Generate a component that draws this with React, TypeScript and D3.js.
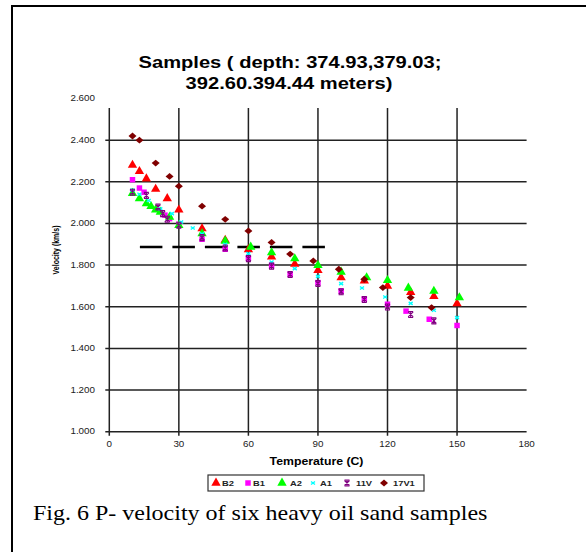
import React from "react";
import * as d3 from "d3";

// ---- data ----
const xTicks = [0, 30, 60, 90, 120, 150, 180];
const yTicks = [1.0, 1.2, 1.4, 1.6, 1.8, 2.0, 2.2, 2.4, 2.6];

const b2T = [10, 13, 16, 20, 25, 30, 40, 50, 60, 70, 80, 90, 100, 110, 120, 130, 140, 150];
const b2V = [2.28, 2.25, 2.215, 2.165, 2.12, 2.065, 1.975, 1.92, 1.875, 1.84, 1.805, 1.775, 1.74, 1.725, 1.7, 1.67, 1.65, 1.615];

const b1T = [10, 13, 15, 24, 26, 30, 40, 50, 60, 70, 78, 90, 100, 110, 120, 128, 138, 150];
const b1V = [2.21, 2.17, 2.15, 2.04, 2.023, 1.996, 1.924, 1.876, 1.834, 1.799, 1.757, 1.716, 1.676, 1.638, 1.612, 1.579, 1.54, 1.51];

const a2T = [10, 13, 16, 18, 20, 22, 26, 30, 40, 50, 61, 70, 80, 90, 100, 111, 120, 129, 140, 151];
const a2V = [2.145, 2.12, 2.095, 2.082, 2.066, 2.055, 2.031, 1.991, 1.951, 1.916, 1.887, 1.86, 1.831, 1.799, 1.767, 1.74, 1.727, 1.69, 1.675, 1.644];

const a1T = [10, 13, 17, 22, 27, 31, 36, 40, 50, 60, 70, 80, 90, 100, 109, 119, 130, 140, 150];
const a1V = [2.16, 2.14, 2.11, 2.07, 2.047, 2.007, 1.978, 1.95, 1.9, 1.855, 1.815, 1.783, 1.746, 1.711, 1.69, 1.647, 1.616, 1.583, 1.548];

const v11T = [10, 16, 21, 23, 25, 30, 40, 50, 60, 70, 78, 90, 100, 110, 120, 130, 140];
const v11V = [2.15, 2.135, 2.079, 2.047, 2.02, 1.991, 1.932, 1.882, 1.831, 1.795, 1.755, 1.712, 1.672, 1.635, 1.599, 1.563, 1.532];

const v17T = [10, 13, 20, 26, 30, 40, 50, 60, 70, 78, 88, 99, 110, 118, 130, 139];
const v17V = [2.42, 2.4, 2.29, 2.226, 2.179, 2.083, 2.02, 1.964, 1.909, 1.853, 1.82, 1.78, 1.732, 1.692, 1.644, 1.596];

const dashT = [13.2, 93];
const dashV = [1.887, 1.887];

const seriesNames = ["B2", "B1", "A2", "A1", "11V", "17V1"];
const seriesColors = ["#ff0000", "#ff00ff", "#00ff00", "#00ffff", "#800080", "#800000"];
const seriesT = [b2T, b1T, a2T, a1T, v11T, v17T];
const seriesV = [b2V, b1V, a2V, a1V, v11V, v17V];

const titleLines = ["Samples ( depth: 374.93,379.03;", "392.60.394.44 meters)"];
const xTitle = "Temperature (C)";
const yTitle = "Velocity (km/s)";
const caption = "Fig. 6 P- velocity of six heavy oil sand samples";

// ---- layout ----
const W = 586;
const H = 552;
const SX = 1.17;
const x = d3.scaleLinear().domain([0, 180]).range([109.3, 526.6]);
const y = d3.scaleLinear().domain([1.0, 2.6]).range([431.7, 98.5]);

const triPath = d3.symbol(d3.symbolTriangle, 38)() as string;
const sqPath = d3.symbol(d3.symbolSquare, 30)() as string;
const diaPath = "M0,-3.4L4,0L0,3.4L-4,0Z";

function Marker({ i, cx, cy }: { i: number; cx: number; cy: number }) {
  const c = seriesColors[i];
  const t = `translate(${cx},${cy})`;
  if (i === 0 || i === 2) return <path d={triPath} transform={t} fill={c} />;
  if (i === 1) return <path d={sqPath} transform={t} fill={c} />;
  if (i === 3)
    return (
      <path d="M-2,-1.5L2,1.5M2,-1.5L-2,1.5" transform={t} stroke={c} strokeWidth={1.4} fill="none" />
    );
  if (i === 4)
    return (
      <path
        d="M-2.5,-2.5L2.5,2.5M2.5,-2.5L-2.5,2.5M0,-3L0,3M-2.5,-3L2.5,-3M-2.5,3L2.5,3"
        transform={t}
        stroke={c}
        strokeWidth={1.1}
        fill="none"
      />
    );
  return <path d={diaPath} transform={t} fill={c} />;
}

function SText({
  x0,
  y0,
  size,
  anchor = "middle",
  bold = false,
  family = "Liberation Sans, Arial, sans-serif",
  fill = "#000",
  sx = SX,
  children,
}: any) {
  return (
    <text
      transform={`translate(${x0},${y0}) scale(${sx},1)`}
      fontSize={size}
      fontFamily={family}
      fontWeight={bold ? "bold" : "normal"}
      textAnchor={anchor}
      dominantBaseline="central"
      fill={fill}
    >
      {children}
    </text>
  );
}

export default function App() {
  const legendX = [216, 248, 282, 313, 347, 384];
  const legendTextX = [222, 253, 290, 320, 356, 393];
  const legendY = 483;
  const dashLine = d3.line<number>().x((d, k) => x(dashT[k])).y((d, k) => y(dashV[k]));
  return (
    <svg
      width={W}
      height={H}
      style={{ position: "absolute", left: 0, top: 0, background: "#fff" }}
    >
      <rect width={W} height={H} fill="#fff" />
      {/* outer table frame */}
      <line x1={12} y1={6} x2={W} y2={6} stroke="#000" strokeWidth={2} />
      <line x1={12} y1={5} x2={12} y2={H} stroke="#000" strokeWidth={2} />

      {/* gridlines */}
      {yTicks.map((t) => (
        <line key={"h" + t} x1={x(0) - 4} x2={x(180)} y1={y(t)} y2={y(t)} stroke="#222" strokeWidth={1.5} />
      ))}
      {xTicks.slice(0, 6).map((t) => (
        <line key={"v" + t} x1={x(t)} x2={x(t)} y1={y(2.6)} y2={y(1.0) + 4} stroke="#222" strokeWidth={1.5} />
      ))}

      {/* white title box overlapping top of plot */}
      <rect x={100} y={40} width={432} height={68} fill="#fff" />

      {/* title */}
      <SText x0={290} y0={62} size={17.2} bold>
        {titleLines[0]}
      </SText>
      <SText x0={289} y0={83} size={17.2} bold>
        {titleLines[1]}
      </SText>

      {/* y tick labels */}
      {yTicks.map((t) => (
        <SText key={"yl" + t} x0={95} y0={y(t)} size={8.4} anchor="end" fill="#222">
          {d3.format(".3f")(t)}
        </SText>
      ))}
      {/* x tick labels */}
      {xTicks.map((t) => (
        <SText key={"xl" + t} x0={x(t)} y0={444} size={8.4} fill="#222">
          {String(t)}
        </SText>
      ))}

      {/* axis titles */}
      <SText x0={316.5} y0={461} size={10.5} bold>
        {xTitle}
      </SText>
      <text
        transform={`translate(56,250) scale(${SX},1) rotate(-90)`}
        fontSize={7}
        fontFamily="Liberation Sans, Arial, sans-serif"
        fontWeight="bold"
        textAnchor="middle"
        dominantBaseline="central"
      >
        {yTitle}
      </text>

      {/* dashed reference line */}
      <path
        d={dashLine(dashT) as string}
        stroke="#000"
        strokeWidth={2.6}
        strokeDasharray="22.5,10"
        fill="none"
      />

      {/* series markers */}
      {seriesT.map((ts, i) => (
        <g key={"s" + i}>
          {ts.map((t, k) => (
            <Marker key={k} i={i} cx={x(t)} cy={y(seriesV[i][k])} />
          ))}
        </g>
      ))}

      {/* legend */}
      <rect x={208} y={475} width={216} height={16} fill="#fff" stroke="#333" strokeWidth={1.2} />
      {seriesNames.map((n, i) => (
        <g key={"lg" + i}>
          <Marker i={i} cx={legendX[i]} cy={legendY} />
          <SText x0={legendTextX[i]} y0={legendY} size={8} anchor="start" bold fill="#222">
            {n}
          </SText>
        </g>
      ))}

      {/* caption */}
      <SText x0={33} y0={513} size={20} sx={1.2} anchor="start" family="Liberation Serif, Times New Roman, serif">
        {caption}
      </SText>
    </svg>
  );
}
